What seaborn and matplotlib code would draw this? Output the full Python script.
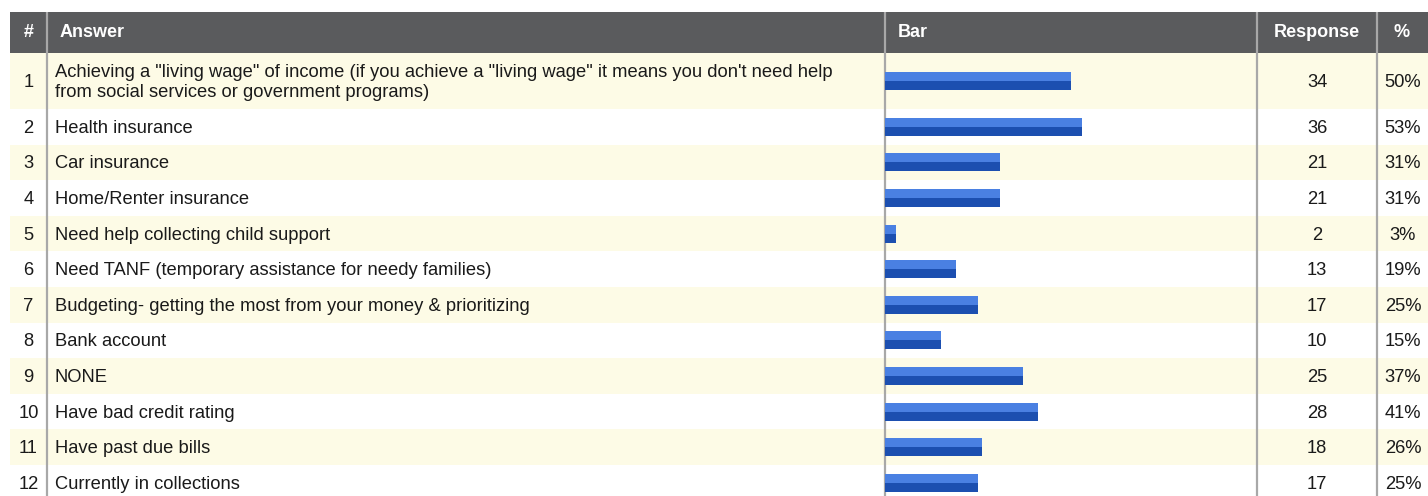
import matplotlib
matplotlib.use("Agg")
import matplotlib.pyplot as plt
from matplotlib.patches import Rectangle
import numpy as np
import pandas as pd
import seaborn as sns

# ---- survey results ----
ranks = list(range(1, 13))
answers = [
    "Achieving a \"living wage\" of income (if you achieve a \"living wage\" it means you don't need help\nfrom social services or government programs)",
    "Health insurance",
    "Car insurance",
    "Home/Renter insurance",
    "Need help collecting child support",
    "Need TANF (temporary assistance for needy families)",
    "Budgeting- getting the most from your money & prioritizing",
    "Bank account",
    "NONE",
    "Have bad credit rating",
    "Have past due bills",
    "Currently in collections",
]
responses = [34, 36, 21, 21, 2, 13, 17, 10, 25, 28, 18, 17]
percents = [50, 53, 31, 31, 3, 19, 25, 15, 37, 41, 26, 25]
headers = ["#", "Answer", "Bar", "Response", "%"]

# ---- table layout (figure pixels) ----
W, H = 1428, 496
LEFT = 10
HEADER_TOP, HEADER_BOTTOM = 12, 53
FIRST_ROW_H, ROW_H = 56, 35.6
COL_NUM_END, COL_ANSWER_END, COL_BAR_END, COL_RESP_END = 47, 885, 1257, 1377
PCT_CENTER = 1403
BAR_THICK = 18
TEXT_NUDGE = 1.5

HEADER_BG = "#5a5b5d"
ROW_ALT = "#fdfbe6"
DIVIDER = "#a8a8a8"
BLUE_LIGHT = "#4a80e2"
BLUE_DARK = "#1c4fb0"
TEXT = "#1a1a1a"

row_heights = [FIRST_ROW_H] + [ROW_H] * (len(ranks) - 1)
row_tops = HEADER_BOTTOM + np.concatenate([[0], np.cumsum(row_heights)[:-1]])
row_centers = row_tops + np.array(row_heights) / 2

df = pd.DataFrame({
    "rank": ranks,
    "answer": answers,
    "responses": responses,
    "pct": percents,
    "center": row_centers,
})

sns.set_theme(style="white")
plt.rcParams["font.family"] = ["Liberation Sans", "DejaVu Sans"]

fig = plt.figure(figsize=(W / 100, H / 100), dpi=100)
ax = fig.add_axes([0, 0, 1, 1])
ax.set_xlim(0, W)
ax.set_ylim(H, 0)
ax.axis("off")

# header band
ax.add_patch(Rectangle((LEFT, HEADER_TOP), W - LEFT, HEADER_BOTTOM - HEADER_TOP,
                       facecolor=HEADER_BG, edgecolor="none", zorder=0))
hy = (HEADER_TOP + HEADER_BOTTOM) / 2
hkw = dict(color="white", fontsize=13, fontweight="bold", va="center")
ax.text((LEFT + COL_NUM_END) / 2, hy, headers[0], ha="center", **hkw)
ax.text(COL_NUM_END + 13, hy, headers[1], ha="left", **hkw)
ax.text(COL_ANSWER_END + 13, hy, headers[2], ha="left", **hkw)
ax.text((COL_BAR_END + COL_RESP_END) / 2, hy, headers[3], ha="center", **hkw)
ax.text(PCT_CENTER - 1, hy, headers[4], ha="center", **hkw)

# body rows
for i, row in df.iterrows():
    top, h = row_tops[i], row_heights[i]
    if i % 2 == 0:
        ax.add_patch(Rectangle((LEFT, top), W - LEFT, h, facecolor=ROW_ALT,
                               edgecolor="none", zorder=0))
    cy = row["center"] + TEXT_NUDGE
    tkw = dict(color=TEXT, fontsize=13.2, va="center")
    ax.text((LEFT + COL_NUM_END) / 2, cy, str(row["rank"]), ha="center", **tkw)
    ax.text(COL_NUM_END + 8, cy, row["answer"], ha="left", linespacing=1.22, **tkw)
    ax.text((COL_BAR_END + COL_RESP_END) / 2, cy, str(row["responses"]), ha="center", **tkw)
    ax.text(PCT_CENTER, cy, f"{row['pct']}%", ha="center", **tkw)

# column dividers
for x in (COL_NUM_END, COL_ANSWER_END, COL_BAR_END, COL_RESP_END):
    ax.plot([x, x], [HEADER_TOP, H], color=DIVIDER, lw=1.6, zorder=3,
            solid_capstyle="butt")

# bar column: x in percent, y in figure pixels
bax = fig.add_axes([COL_ANSWER_END / W, 0, (COL_BAR_END - COL_ANSWER_END) / W, 1])
bax.patch.set_alpha(0)
spacing = ROW_H
sns.barplot(data=df, x="pct", y="center", orient="h", native_scale=True,
            width=BAR_THICK / spacing, color=BLUE_LIGHT, saturation=1,
            errorbar=None, linewidth=0, ax=bax)
df_low = df.assign(center=df["center"] + BAR_THICK / 4)
sns.barplot(data=df_low, x="pct", y="center", orient="h", native_scale=True,
            width=(BAR_THICK / 2) / spacing, color=BLUE_DARK, saturation=1,
            errorbar=None, linewidth=0, ax=bax)
bax.set_xlim(0, 100)
bax.set_ylim(H, 0)
bax.axis("off")

fig.savefig("out.png", dpi=100)
